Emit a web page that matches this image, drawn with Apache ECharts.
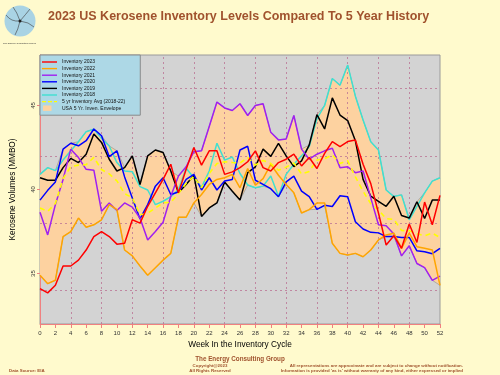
<!DOCTYPE html>
<html>
<head>
<meta charset="utf-8">
<script src="https://cdn.jsdelivr.net/npm/echarts@6/dist/echarts.min.js"></script>
<style>
  html, body { margin: 0; padding: 0; background: #fffacd; }
  #chart { width: 500px; height: 375px; }
</style>
</head>
<body>
<div id="chart"></div>
<script>
// week index 0..52
const weeks = Array.from({ length: 53 }, (_, i) => i)

const inv2023 = [34.1, 33.85, 34.3, 35.45, 35.45, 35.8, 36.4, 37.2, 37.5, 37.2,
  36.75, 36.8, 38.2, 38.0, 39.0, 39.8, 40.6, 41.5, 39.8, 41.2,
  42.5, 41.45, 42.3, 42.3, 40.9, 41.05, 41.3, 41.65, 42.3, 41.3,
  41.1, 41.6, 41.8, 42.1, 41.4, 41.9, 41.25, 42.15, 42.85, 42.55,
  42.85, 42.95, 41.5, 40.35, 38.6, 36.7, 37.25, 36.5, 37.95, 36.85,
  39.25, 37.9, 39.65]
const inv2022 = [34.9, 34.4, 34.6, 37.2, 37.5, 38.3, 37.75, 37.9, 38.2, 39.1,
  38.8, 36.4, 36.05, 35.45, 34.9, 35.35, 35.8, 36.2, 38.35, 38.35,
  39.2, 39.7, 40.3, 40.6, 40.7, 40.9, 40.1, 41.25, 40.25, 40.65,
  41.5, 40.85, 40.3, 39.8, 38.6, 38.8, 39.2, 39.2, 36.8, 36.2,
  36.1, 36.2, 36.0, 36.4, 37.0, 37.3, 37.4, 36.5, 37.4, 36.6,
  36.5, 36.4, 34.3]
const inv2021 = [38.65, 37.3, 39.1, 40.6, 42.4, 41.9, 41.2, 41.15, 38.7, 39.2,
  38.75, 39.2, 38.95, 38.3, 37.0, 37.5, 38.05, 39.6, 40.8, 41.35,
  42.25, 42.3, 43.75, 45.2, 44.85, 44.7, 45.1, 44.4, 45.0, 45.1,
  43.4, 42.95, 43.0, 44.4, 42.4, 41.8, 42.1, 42.3, 42.45, 41.3,
  41.35, 41.0, 41.1, 39.5, 37.9, 37.85, 37.35, 36.05, 36.65, 35.6,
  35.35, 34.6, 34.85]
const inv2020 = [39.37, 39.95, 40.45, 42.4, 42.75, 42.6, 42.9, 43.6, 43.2, 41.95,
  42.3, 40.75, 39.5, 38.25, 39.1, 40.2, 40.7, 39.7, 39.85, 40.6,
  40.9, 39.97, 40.7, 39.97, 40.5, 40.6, 42.35, 42.57, 40.55, 40.3,
  40.05, 39.57, 40.45, 40.8, 39.9, 39.57, 38.82, 39.06, 38.99, 39.63,
  39.57, 38.08, 37.65, 37.45, 37.42, 37.2, 37.2, 37.15, 37.15, 36.35,
  36.3, 36.18, 36.5]
const inv2019 = [40.7, 40.55, 40.55, 41.3, 41.85, 41.6, 42.1, 43.3, 42.8, 41.8,
  41.1, 41.3, 42.0, 40.3, 42.0, 42.35, 42.2, 41.1, 39.8, 40.3,
  40.85, 38.4, 38.9, 39.2, 40.45, 39.9, 39.37, 41.0, 41.35, 42.4,
  41.97, 42.75, 42.0, 41.36, 41.7, 42.65, 44.45, 43.6, 45.45, 44.43,
  44.1, 42.9, 40.6, 39.6, 39.3, 39.0, 39.6, 38.45, 38.3, 39.27,
  38.28, 39.37, 39.37]
const inv2018 = [40.9, 41.3, 41.12, 41.75, 42.3, 42.84, 43.44, 43.58, 43.04, 42.59,
  41.6, 41.1, 41.06, 40.17, 39.97, 39.1, 39.3, 39.57, 40.0, 41.26,
  40.7, 40.13, 41.1, 42.75, 41.75, 41.93, 40.95, 40.27, 40.1, 40.2,
  40.8, 39.6, 40.9, 41.5, 42.0, 42.55, 44.2, 45.0, 46.6, 46.2,
  47.4, 45.55, 44.13, 42.84, 42.35, 39.97, 39.58, 39.68, 38.2, 39.0,
  39.8, 40.5, 40.7]

const yLabels = [35, 40, 45]
const gridWeeks = [4, 8, 12, 16, 20, 24, 28, 32, 36, 40, 44, 48]
const gridLevels = [34, 38, 42, 46]

// 5 yr history (2018-22): avg and envelope
const history = [inv2022, inv2021, inv2020, inv2019, inv2018]
const envLow = weeks.map((w, i) => Math.min(...history.map(s => s[i])))
const envHigh = weeks.map((w, i) => Math.max(...history.map(s => s[i])))
const avg5 = weeks.map((w, i) => history.reduce((a, s) => a + s[i], 0) / history.length)

const FONT = 'Liberation Sans, Arial, sans-serif'
const BROWN = '#a0522d'
const AXIS_RED = '#f08080'

// legend icons (outer moveTo points keep the box 15x6)
const ICON_LINE = 'path://M0,0 M0,2.3 L15,2.3 L15,3.7 L0,3.7 Z M15,6'
const ICON_DASH = 'path://M0,0 M0,2.3 L4,2.3 L4,3.7 L0,3.7 Z M6,2.3 L10,2.3 L10,3.7 L6,3.7 Z M12,2.3 L15,2.3 L15,3.7 L12,3.7 Z M15,6'
const ICON_BOX = 'path://M0,0 M1,0.3 L9.5,0.3 L9.5,5.7 L1,5.7 Z M15,6'

function line (name, vals, color, extra) {
  return Object.assign({
    name,
    type: 'line',
    data: vals,
    symbol: 'none',
    z: 3,
    itemStyle: { color },
    lineStyle: { color, width: 1.5 }
  }, extra || {})
}

const option = {
  animation: false,
  backgroundColor: '#fffacd',
  textStyle: { fontFamily: FONT },
  grid: {
    left: 40,
    right: 60,
    top: 55,
    bottom: 51,
    show: true,
    backgroundColor: '#d3d3d3',
    borderColor: '#9a9a9a',
    borderWidth: 1
  },
  legend: {
    orient: 'vertical',
    left: 40,
    top: 55,
    padding: [4, 15, 4, 2],
    itemWidth: 15,
    itemHeight: 6,
    itemGap: 0.6,
    backgroundColor: '#add8e6',
    borderColor: '#8a8a8a',
    borderWidth: 1,
    itemStyle: { borderWidth: 0 },
    textStyle: { fontSize: 5, color: '#111', lineHeight: 6, fontFamily: FONT },
    data: [
      { name: 'Inventory 2023', icon: ICON_LINE },
      { name: 'Inventory 2022', icon: ICON_LINE },
      { name: 'Inventory 2021', icon: ICON_LINE },
      { name: 'Inventory 2020', icon: ICON_LINE },
      { name: 'Inventory 2019', icon: ICON_LINE },
      { name: 'Inventory 2018', icon: ICON_LINE },
      { name: '5 yr Inventory Avg (2018-22)', icon: ICON_DASH },
      { name: 'USA 5 Yr. Inven. Envelope', icon: ICON_BOX }
    ]
  },
  xAxis: {
    type: 'category',
    data: weeks,
    boundaryGap: false,
    name: 'Week In the Inventory Cycle',
    nameLocation: 'middle',
    nameGap: 14,
    nameTextStyle: { fontSize: 8.3, color: '#000' },
    axisLine: { lineStyle: { color: AXIS_RED, width: 1 } },
    axisTick: { length: 4, interval: 1, lineStyle: { color: AXIS_RED } },
    axisLabel: { fontSize: 6, color: '#333', margin: 6, interval: 1 },
    splitLine: { show: false }
  },
  yAxis: {
    type: 'value',
    min: 32,
    max: 48,
    name: 'Kerosene Volumes (MMBO)',
    nameLocation: 'middle',
    nameGap: 23,
    nameTextStyle: { fontSize: 8.2, color: '#000' },
    axisLine: { show: true, lineStyle: { color: AXIS_RED, width: 1 } },
    axisTick: { show: true, length: 3, customValues: yLabels, lineStyle: { color: AXIS_RED } },
    axisLabel: { fontSize: 6, color: '#333', rotate: 90, margin: 4, customValues: yLabels },
    splitLine: { show: false }
  },
  series: [
    {
      name: 'envLow',
      type: 'line',
      stack: 'env',
      data: envLow,
      symbol: 'none',
      z: 1,
      lineStyle: { color: '#8c8c8c', width: 0.6 },
      markLine: {
        silent: true,
        symbol: 'none',
        z: 2,
        label: { show: false },
        lineStyle: { color: '#bb7494', width: 0.8, type: [2, 3] },
        data: gridWeeks.map(w => ({ xAxis: w })).concat(gridLevels.map(v => ({ yAxis: v })))
      }
    },
    {
      name: 'USA 5 Yr. Inven. Envelope',
      type: 'line',
      stack: 'env',
      data: weeks.map((w, i) => envHigh[i] - envLow[i]),
      symbol: 'none',
      z: 1,
      itemStyle: { color: '#fdd2a0' },
      lineStyle: { color: '#8c8c8c', width: 0.6 },
      areaStyle: { color: '#fdd2a0', opacity: 1 }
    },
    line('Inventory 2018', inv2018, '#40e0d0'),
    line('Inventory 2019', inv2019, '#000000'),
    line('Inventory 2020', inv2020, '#0000ff'),
    line('Inventory 2021', inv2021, '#a020f0'),
    line('Inventory 2022', inv2022, '#ffa500'),
    line('5 yr Inventory Avg (2018-22)', avg5, '#ffff00', {
      lineStyle: { color: '#ffff00', width: 1.6, type: [5, 4] }
    }),
    line('Inventory 2023', inv2023, '#ff0000')
  ],
  graphic: [
    // logo
    { type: 'circle', shape: { cx: 20, cy: 21, r: 15.5 }, style: { fill: '#a9d3e4' }, z: 10 },
    { type: 'bezierCurve', shape: { x1: 20, y1: 21, cpx1: 26, cpy1: 14, x2: 30, y2: 9 }, style: { stroke: '#3c3c3c', lineWidth: 0.6, fill: null }, z: 11 },
    { type: 'bezierCurve', shape: { x1: 20, y1: 21, cpx1: 29, cpy1: 22, x2: 34, y2: 27 }, style: { stroke: '#3c3c3c', lineWidth: 0.6, fill: null }, z: 11 },
    { type: 'bezierCurve', shape: { x1: 20, y1: 21, cpx1: 18, cpy1: 30, x2: 15, y2: 35 }, style: { stroke: '#3c3c3c', lineWidth: 0.6, fill: null }, z: 11 },
    { type: 'bezierCurve', shape: { x1: 20, y1: 21, cpx1: 11, cpy1: 22, x2: 6, y2: 15 }, style: { stroke: '#3c3c3c', lineWidth: 0.6, fill: null }, z: 11 },
    { type: 'bezierCurve', shape: { x1: 20, y1: 21, cpx1: 17, cpy1: 12, x2: 13, y2: 7 }, style: { stroke: '#3c3c3c', lineWidth: 0.6, fill: null }, z: 11 },
    { type: 'circle', shape: { cx: 20, cy: 21, r: 1.5 }, style: { fill: '#222' }, z: 12 },
    { type: 'text', x: 19.5, y: 43, z: 10, style: { text: 'The Energy Consulting Group', fontSize: 2.5, fill: '#333', align: 'center', verticalAlign: 'middle', fontFamily: FONT } },
    // title
    { type: 'text', x: 48, y: 16.5, z: 10, style: { text: '2023 US Kerosene Inventory Levels Compared To 5 Year History', fontSize: 12.5, fontWeight: 'bold', fill: BROWN, align: 'left', verticalAlign: 'middle', fontFamily: FONT } },
    // footer
    { type: 'text', x: 240, y: 359.5, z: 10, style: { text: 'The Energy Consulting Group', fontSize: 6.3, fontWeight: 'bold', fill: BROWN, align: 'center', verticalAlign: 'middle', fontFamily: FONT } },
    { type: 'text', x: 210, y: 365.8, z: 10, style: { text: 'Copyright@2023', fontSize: 4.4, fontWeight: 'bold', fill: BROWN, align: 'center', verticalAlign: 'middle', fontFamily: FONT } },
    { type: 'text', x: 210, y: 370.8, z: 10, style: { text: 'All Rights Reserved', fontSize: 4.4, fontWeight: 'bold', fill: BROWN, align: 'center', verticalAlign: 'middle', fontFamily: FONT } },
    { type: 'text', x: 9, y: 371, z: 10, style: { text: 'Data Source: EIA', fontSize: 4.4, fontWeight: 'bold', fill: BROWN, align: 'left', verticalAlign: 'middle', fontFamily: FONT } },
    { type: 'text', x: 463, y: 365.8, z: 10, style: { text: 'All representations are approximate and are subject to change without notification.', fontSize: 4.4, fontWeight: 'bold', fill: BROWN, align: 'right', verticalAlign: 'middle', fontFamily: FONT } },
    { type: 'text', x: 463, y: 370.8, z: 10, style: { text: "Information is provided 'as is' without warranty of any kind, either expressed or implied", fontSize: 4.4, fontWeight: 'bold', fill: BROWN, align: 'right', verticalAlign: 'middle', fontFamily: FONT } }
  ]
}

const chart = echarts.init(document.getElementById('chart'))
chart.setOption(option)
</script>
</body>
</html>
